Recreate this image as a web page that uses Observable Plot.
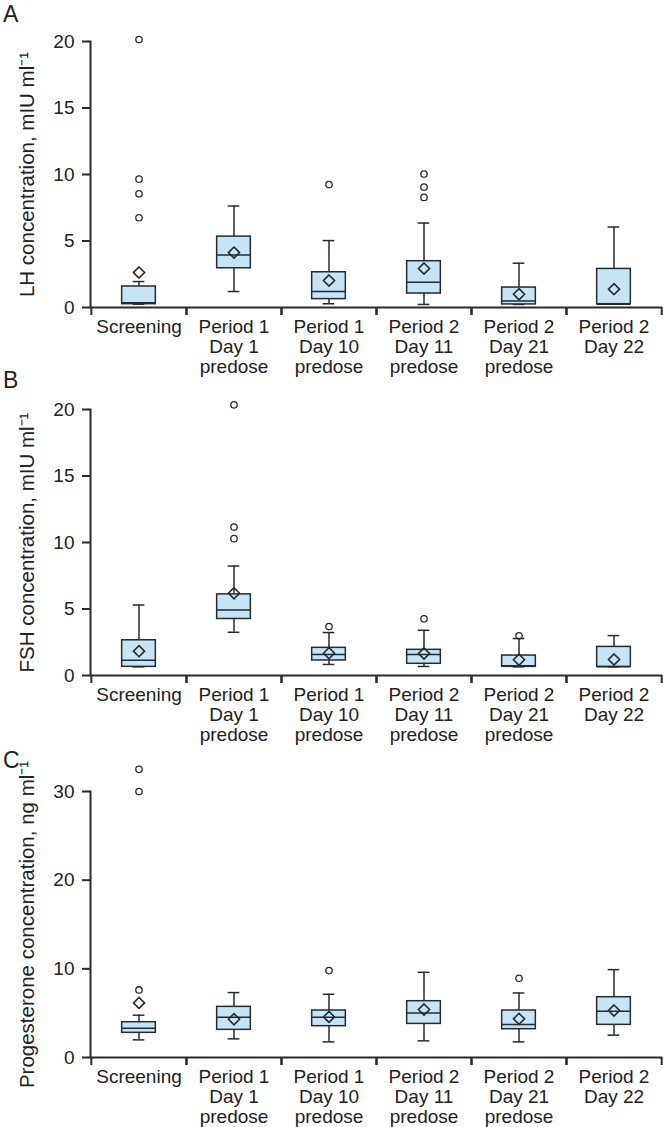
<!DOCTYPE html>
<html>
<head>
<meta charset="utf-8">
<script src="https://cdn.jsdelivr.net/npm/d3@7"></script>
<script src="https://cdn.jsdelivr.net/npm/@observablehq/plot@0.6"></script>
<style>
  html, body { margin: 0; padding: 0; background: #fff; }
  #wrap { position: relative; width: 665px; height: 1127px; font-family: "Liberation Sans", Arial, sans-serif; color: #222; }
  .panel { position: absolute; left: 0; }
  .letter { position: absolute; left: 3px; font-size: 23px; line-height: 1; }
</style>
</head>
<body>
<div id="wrap">
  <div class="panel" id="pA" style="top:0px"></div>
  <div class="panel" id="pB" style="top:370px"></div>
  <div class="panel" id="pC" style="top:740px"></div>
  <div class="letter" style="top:3px">A</div>
  <div class="letter" style="top:369px">B</div>
  <div class="letter" style="top:749px">C</div>
</div>
<script>
// Categories (x) and their tick labels
const categories = ["Screening", "P1D1", "P1D10", "P2D11", "P2D21", "P2D22"];
const categoryLabels = ["Screening", "Period 1\nDay 1\npredose", "Period 1\nDay 10\npredose", "Period 2\nDay 11\npredose", "Period 2\nDay 21\npredose", "Period 2\nDay 22"];

// Panel A: LH concentration, mIU/ml
const lhQ1 = [0.25, 2.95, 0.63, 1.05, 0.23, 0.25];
const lhMedian = [0.35, 3.95, 1.2, 1.9, 0.48, 0.25];
const lhQ3 = [1.58, 5.33, 2.65, 3.48, 1.5, 2.9];
const lhLow = [0.25, 1.2, 0.28, 0.23, 0.23, 0.25];
const lhHigh = [1.95, 7.63, 5.03, 6.35, 3.33, 6.05];
const lhMean = [2.63, 4.13, 2.03, 2.93, 1.0, 1.38];
const lhOutlierCat = [0, 0, 0, 0, 2, 3, 3, 3];
const lhOutlierVal = [20.15, 9.65, 8.55, 6.75, 9.25, 10.03, 9.05, 8.28];
const lhTicks = [0, 5, 10, 15, 20];

// Panel B: FSH concentration, mIU/ml
const fshQ1 = [0.65, 4.25, 1.13, 0.88, 0.65, 0.65];
const fshMedian = [1.15, 4.93, 1.58, 1.58, 0.73, 0.65];
const fshQ3 = [2.65, 6.1, 2.08, 1.93, 1.5, 2.15];
const fshLow = [0.65, 3.25, 0.83, 0.68, 0.65, 0.65];
const fshHigh = [5.3, 8.23, 3.23, 3.4, 2.78, 3.0];
const fshMean = [1.83, 6.18, 1.68, 1.65, 1.18, 1.2];
const fshOutlierCat = [1, 1, 1, 2, 3, 4];
const fshOutlierVal = [20.35, 11.16, 10.29, 3.68, 4.26, 2.98];
const fshTicks = [0, 5, 10, 15, 20];

// Panel C: Progesterone concentration, ng/ml
const progQ1 = [2.78, 3.12, 3.53, 3.79, 3.19, 3.68];
const progMedian = [3.3, 4.54, 4.54, 5.03, 3.72, 5.22];
const progQ3 = [3.98, 5.71, 5.3, 6.35, 5.3, 6.8];
const progLow = [1.99, 2.1, 1.76, 1.88, 1.76, 2.52];
const progHigh = [4.77, 7.32, 7.13, 9.61, 7.28, 9.91];
const progMean = [6.16, 4.32, 4.58, 5.41, 4.36, 5.3];
const progOutlierCat = [0, 0, 0, 2, 4];
const progOutlierVal = [32.5, 30.0, 7.62, 9.8, 8.94];
const progTicks = [0, 10, 20, 30];

const W = 665, ML = 90, MR = 3;
const bw = (W - ML - MR) / categories.length;
const boxInset = (bw - 34) / 2;
const capInset = (bw - 12) / 2;
const ink = "#262b2e";
const boxFill = "#c6e4f4";

function panel(o) {
  const stats = categories.map((c, i) => ({cat: c, q1: o.q1[i], med: o.med[i], q3: o.q3[i], lo: o.lo[i], hi: o.hi[i], mean: o.mean[i]}));
  const outs = o.outCat.map((c, i) => ({cat: categories[c], v: o.outVal[i]}));
  const labelOf = new Map(categories.map((c, i) => [c, categoryLabels[i]]));
  return Plot.plot({
    width: W, height: o.height,
    marginLeft: ML, marginRight: MR, marginTop: o.marginTop, marginBottom: o.marginBottom,
    style: {fontFamily: "'Liberation Sans', Arial, sans-serif", fontSize: "19px", color: "#222", background: "transparent", overflow: "visible"},
    x: {type: "band", domain: categories, padding: 0, label: null, axis: null},
    y: {domain: [0, o.yMax], label: null, axis: null},
    marks: [
      Plot.ruleX(stats, {x: "cat", y1: "lo", y2: "hi", stroke: ink, strokeWidth: 1.5}),
      Plot.tickY(stats, {x: "cat", y: "hi", insetLeft: capInset, insetRight: capInset, stroke: ink, strokeWidth: 1.5}),
      Plot.tickY(stats, {x: "cat", y: "lo", insetLeft: capInset, insetRight: capInset, stroke: ink, strokeWidth: 1.5}),
      Plot.barY(stats, {x: "cat", y1: "q1", y2: "q3", fill: boxFill, stroke: ink, strokeWidth: 1.5, insetLeft: boxInset, insetRight: boxInset}),
      Plot.tickY(stats, {x: "cat", y: "med", insetLeft: boxInset, insetRight: boxInset, stroke: ink, strokeWidth: 1.5}),
      Plot.dot(stats, {x: "cat", y: "mean", symbol: d3.symbolDiamond2, r: 5, stroke: ink, strokeWidth: 1.6, fill: "none"}),
      Plot.dot(outs, {x: "cat", y: "v", r: 3.2, stroke: ink, strokeWidth: 1.3, fill: "none"}),
      Plot.ruleY([0], {stroke: ink, strokeWidth: 2}),
      Plot.frame({anchor: "left", stroke: ink, strokeWidth: 2}),
      Plot.axisY({ticks: o.ticks, tickSize: 8, tickPadding: 8, stroke: ink, strokeWidth: 2, fontSize: 19, label: null}),
      Plot.axisY({ticks: [], fontSize: 20.5, label: o.label, labelAnchor: "center", labelOffset: 71, labelArrow: false}),
      Plot.axisX({ticks: categories, tickSize: 8, dx: -bw / 2, tickFormat: () => "", stroke: ink, strokeWidth: 2}),
      Plot.axisX({ticks: categories, tickSize: 8, dx: bw / 2, tickFormat: () => "", stroke: ink, strokeWidth: 2}),
      Plot.axisX({ticks: categories, tickSize: 0, tickPadding: 11, lineHeight: 1.05, fontSize: 19, tickFormat: (d) => labelOf.get(d)})
    ]
  });
}

document.getElementById("pA").append(panel({
  q1: lhQ1, med: lhMedian, q3: lhQ3, lo: lhLow, hi: lhHigh, mean: lhMean,
  outCat: lhOutlierCat, outVal: lhOutlierVal, ticks: lhTicks, yMax: 20,
  label: "LH concentration, mIU ml⁻¹", height: 370, marginTop: 41, marginBottom: 63
}));
document.getElementById("pB").append(panel({
  q1: fshQ1, med: fshMedian, q3: fshQ3, lo: fshLow, hi: fshHigh, mean: fshMean,
  outCat: fshOutlierCat, outVal: fshOutlierVal, ticks: fshTicks, yMax: 20,
  label: "FSH concentration, mIU ml⁻¹", height: 370, marginTop: 39, marginBottom: 65
}));
document.getElementById("pC").append(panel({
  q1: progQ1, med: progMedian, q3: progQ3, lo: progLow, hi: progHigh, mean: progMean,
  outCat: progOutlierCat, outVal: progOutlierVal, ticks: progTicks, yMax: 30,
  label: "Progesterone concentration, ng ml⁻¹", height: 387, marginTop: 51, marginBottom: 70
}));
</script>
</body>
</html>
